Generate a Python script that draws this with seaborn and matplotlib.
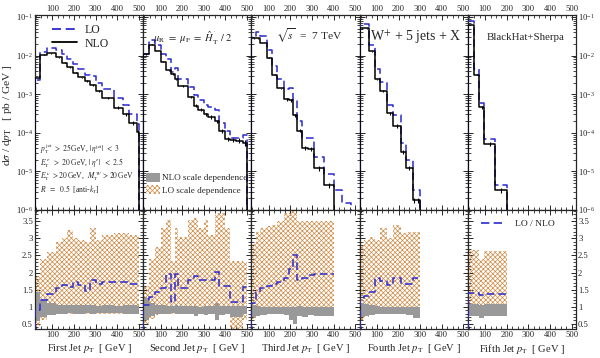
import numpy as np
import matplotlib
matplotlib.use("Agg")
import matplotlib.pyplot as plt
import seaborn as sns
from matplotlib.ticker import MultipleLocator, LogLocator, NullFormatter, FuncFormatter
from matplotlib.lines import Line2D
from matplotlib.patches import Patch

# ---------------- data ----------------
panel_names = ["First Jet", "Second Jet", "Third Jet", "Fourth Jet", "Fifth Jet"]

# First jet
jet1_edges = [20, 45, 75, 115, 145, 170, 195, 220, 250, 275, 300, 330, 385, 425, 455, 490, 500]
jet1_nlo = [2.6e-3, 1.05e-2, 1.15e-2, 9.0e-3, 6.5e-3, 5.0e-3, 3.6e-3, 2.7e-3, 2.2e-3, 1.7e-3, 1.2e-3, 8.0e-4, 4.5e-4, 3.0e-4, 1.8e-4, 1.05e-4]
jet1_nlo_err = [0.02, 0.02, 0.02, 0.02, 0.03, 0.03, 0.04, 0.05, 0.06, 0.06, 0.08, 0.08, 0.1, 0.1, 0.12, 0.15]
jet1_lo_edges = jet1_edges
jet1_lo = [2.3e-3, 1.26e-2, 1.56e-2, 1.39e-2, 1.07e-2, 7.9e-3, 6.2e-3, 4.5e-3, 3.2e-3, 3.0e-3, 2.0e-3, 1.37e-3, 7.8e-4, 5.2e-4, 3.0e-4, 1.7e-4]
jet1_ratio = [0.9, 1.2, 1.36, 1.54, 1.64, 1.59, 1.71, 1.65, 1.45, 1.78, 1.68, 1.71, 1.73, 1.73, 1.68, 1.6]
jet1_nlo_band_lo = [0.58, 0.7, 0.76, 0.8, 0.8, 0.82, 0.8, 0.8, 0.82, 0.8, 0.82, 0.83, 0.82, 0.8, 0.8, 0.8]
jet1_nlo_band_hi = [1.42, 1.2, 1.1, 1.06, 1.05, 1.04, 1.05, 1.06, 1.04, 1.05, 1.03, 1.04, 1.03, 1.04, 1.04, 1.03]
jet1_lo_band_lo = [0.45, 0.6, 0.75, 0.8, 0.8, 0.8, 0.8, 0.8, 0.8, 0.8, 0.8, 0.8, 0.8, 0.8, 0.8, 0.8]
jet1_lo_band_hi = [1.9, 2.4, 2.6, 2.9, 3.0, 3.25, 3.0, 2.95, 2.9, 3.3, 2.95, 3.1, 3.15, 3.15, 3.1, 3.05]

# Second jet
jet2_edges = [20, 45, 75, 100, 125, 150, 165, 180, 225, 255, 275, 300, 320, 350, 370, 400, 420, 450, 480, 500]
jet2_nlo = [1.07e-2, 1.9e-2, 1.3e-2, 7.0e-3, 4.2e-3, 3.3e-3, 2.4e-3, 1.6e-3, 8.5e-4, 5.0e-4, 4.0e-4, 3.0e-4, 2.6e-4, 2.0e-4, 1.1e-4, 7.0e-5, 6.5e-5, 6.3e-5, 5.5e-5]
jet2_nlo_err = [0.02, 0.02, 0.02, 0.03, 0.03, 0.04, 0.05, 0.05, 0.06, 0.08, 0.08, 0.1, 0.1, 0.1, 0.12, 0.12, 0.12, 0.15, 0.15]
jet2_lo_edges = jet2_edges
jet2_lo = [1.12e-2, 2.47e-2, 1.85e-2, 1.09e-2, 8.2e-3, 3.8e-3, 4.7e-3, 2.5e-3, 1.5e-3, 9.5e-4, 7.1e-4, 5.3e-4, 4.6e-4, 4.0e-4, 1.76e-4, 1.12e-4, 7.5e-5, 7.2e-5, 8.6e-5]
jet2_ratio = [1.05, 1.3, 1.42, 1.55, 1.95, 1.15, 1.95, 1.55, 1.78, 1.9, 1.78, 1.78, 1.78, 2.02, 1.6, 1.6, 1.15, 1.15, 1.57]
jet2_nlo_band_lo = [0.62, 0.72, 0.78, 0.8, 0.8, 0.82, 0.8, 0.8, 0.78, 0.72, 0.8, 0.75, 0.8, 0.6, 0.75, 0.8, 0.7, 0.7, 0.78]
jet2_nlo_band_hi = [1.25, 1.1, 1.05, 1.04, 1.03, 1.03, 1.04, 1.02, 1.02, 1.03, 1.0, 1.02, 1.02, 1.1, 1.02, 1.02, 1.03, 1.03, 1.02]
jet2_lo_band_lo = [0.5, 0.65, 0.75, 0.8, 0.8, 0.8, 0.8, 0.8, 0.8, 0.8, 0.8, 0.8, 0.8, 0.8, 0.8, 0.8, 0.35, 0.35, 0.6]
jet2_lo_band_hi = [1.6, 2.4, 2.75, 3.3, 3.55, 2.35, 3.3, 3.05, 3.55, 3.6, 3.3, 3.55, 3.1, 3.75, 3.75, 3.3, 2.35, 2.35, 2.3]

# Third jet
jet3_edges = [20, 40, 60, 90, 115, 140, 170, 195, 210, 230, 255, 280, 310, 355, 400]
jet3_nlo = [2.8e-2, 2.8e-2, 2.1e-2, 8.7e-3, 3.2e-3, 1.4e-3, 7.4e-4, 7.0e-4, 2.8e-4, 1.14e-4, 4.0e-5, 3.8e-5, 1.2e-5, 4.4e-6]
jet3_nlo_err = [0.02, 0.02, 0.02, 0.03, 0.04, 0.05, 0.08, 0.08, 0.1, 0.1, 0.12, 0.12, 0.15, 0.15]
jet3_lo_edges = [20, 40, 60, 90, 115, 140, 170, 195, 210, 230, 255, 280, 310, 355, 400, 440, 480]
jet3_lo = [3.1e-2, 4.0e-2, 3.2e-2, 1.41e-2, 5.3e-3, 2.4e-3, 1.37e-3, 1.47e-3, 7.1e-4, 2.0e-4, 7.4e-5, 7.3e-5, 2.3e-5, 8.6e-6, 3.3e-6, 1.5e-6]
jet3_ratio = [1.1, 1.44, 1.54, 1.62, 1.66, 1.72, 1.85, 2.1, 2.52, 1.78, 1.85, 1.92, 1.95, 1.95]
jet3_nlo_band_lo = [0.7, 0.74, 0.76, 0.78, 0.78, 0.78, 0.76, 0.6, 0.5, 0.72, 0.7, 0.76, 0.72, 0.72]
jet3_nlo_band_hi = [1.05, 1.02, 1.0, 1.0, 1.0, 1.0, 1.0, 1.0, 1.0, 1.02, 1.0, 1.0, 1.0, 1.0]
jet3_lo_band_lo = [0.65, 0.72, 0.75, 0.78, 0.78, 0.78, 0.76, 0.7, 0.6, 0.72, 0.72, 0.76, 0.72, 0.72]
jet3_lo_band_hi = [2.85, 3.2, 3.3, 3.35, 3.4, 3.5, 3.75, 3.8, 3.8, 3.5, 3.5, 3.5, 3.5, 3.5]

# Fourth jet
jet4_edges = [20, 40, 65, 90, 115, 145, 175, 210, 235, 265, 280, 300]
jet4_nlo = [5.1e-2, 5.1e-2, 1.3e-2, 2.4e-3, 1.2e-3, 3.2e-4, 1.5e-4, 3.2e-5, 1.2e-5, 1.8e-6, 1.8e-6]
jet4_nlo_err = [0.02, 0.02, 0.03, 0.05, 0.06, 0.08, 0.1, 0.12, 0.12, 0.15, 0.15]
jet4_lo_edges = jet4_edges
jet4_lo = [6.4e-2, 6.7e-2, 1.85e-2, 4.4e-3, 2.1e-3, 5.3e-4, 2.8e-4, 5.4e-5, 2.0e-5, 3.3e-6, 3.3e-6]
jet4_ratio = [1.25, 1.32, 1.42, 1.85, 1.75, 1.65, 1.85, 1.68, 1.68, 1.85, 1.85]
jet4_nlo_band_lo = [0.7, 0.72, 0.76, 0.8, 0.8, 0.8, 0.8, 0.78, 0.75, 0.68, 0.68]
jet4_nlo_band_hi = [1.12, 1.08, 1.04, 1.02, 1.0, 1.0, 1.0, 1.0, 1.0, 1.0, 1.0]
jet4_lo_band_lo = [0.6, 0.7, 0.75, 0.8, 0.8, 0.8, 0.8, 0.78, 0.75, 0.7, 0.7]
jet4_lo_band_hi = [2.8, 2.95, 3.05, 2.95, 3.3, 3.0, 3.4, 3.15, 3.2, 3.2, 3.2]

# Fifth jet
jet5_edges = [20, 50, 72, 97, 148, 200]
jet5_nlo = [6.2e-2, 3.2e-3, 4.6e-4, 5.2e-5, 3.3e-6]
jet5_nlo_err = [0.02, 0.05, 0.08, 0.12, 0.15]
jet5_lo_edges = jet5_edges
jet5_lo = [8.0e-2, 4.4e-3, 6.0e-4, 7.0e-5, 4.5e-6]
jet5_ratio = [1.4, 1.4, 1.35, 1.38, 1.38]
jet5_nlo_band_lo = [0.72, 0.72, 0.68, 0.72, 0.72]
jet5_nlo_band_hi = [1.08, 1.08, 1.06, 1.08, 1.08]
jet5_lo_band_lo = [0.72, 0.72, 0.68, 0.72, 0.72]
jet5_lo_band_hi = [2.66, 2.66, 2.4, 2.62, 2.62]

panels = [
    dict(edges=jet1_edges, nlo=jet1_nlo, err=jet1_nlo_err, lo_edges=jet1_lo_edges, lo=jet1_lo, ratio=jet1_ratio,
         nb_lo=jet1_nlo_band_lo, nb_hi=jet1_nlo_band_hi, lb_lo=jet1_lo_band_lo, lb_hi=jet1_lo_band_hi),
    dict(edges=jet2_edges, nlo=jet2_nlo, err=jet2_nlo_err, lo_edges=jet2_lo_edges, lo=jet2_lo, ratio=jet2_ratio,
         nb_lo=jet2_nlo_band_lo, nb_hi=jet2_nlo_band_hi, lb_lo=jet2_lo_band_lo, lb_hi=jet2_lo_band_hi),
    dict(edges=jet3_edges, nlo=jet3_nlo, err=jet3_nlo_err, lo_edges=jet3_lo_edges, lo=jet3_lo, ratio=jet3_ratio,
         nb_lo=jet3_nlo_band_lo, nb_hi=jet3_nlo_band_hi, lb_lo=jet3_lo_band_lo, lb_hi=jet3_lo_band_hi),
    dict(edges=jet4_edges, nlo=jet4_nlo, err=jet4_nlo_err, lo_edges=jet4_lo_edges, lo=jet4_lo, ratio=jet4_ratio,
         nb_lo=jet4_nlo_band_lo, nb_hi=jet4_nlo_band_hi, lb_lo=jet4_lo_band_lo, lb_hi=jet4_lo_band_hi),
    dict(edges=jet5_edges, nlo=jet5_nlo, err=jet5_nlo_err, lo_edges=jet5_lo_edges, lo=jet5_lo, ratio=jet5_ratio,
         nb_lo=jet5_nlo_band_lo, nb_hi=jet5_nlo_band_hi, lb_lo=jet5_lo_band_lo, lb_hi=jet5_lo_band_hi),
]

# ---------------- style ----------------
BLUE = "#2a2ad0"
ORANGE = "#d08a45"
GRAY = "#999999"
DASH = (0, (5, 2.6))
HATCH = "xxxxxxx"

sns.set_theme(style="ticks")
plt.rcParams.update({
    "font.family": ["Liberation Serif", "DejaVu Serif"],
    "mathtext.fontset": "stix",
    "hatch.color": ORANGE,
    "hatch.linewidth": 0.5,
    "axes.linewidth": 0.9,
    "xtick.direction": "in", "ytick.direction": "in",
    "xtick.major.size": 3.5, "ytick.major.size": 3.5,
    "xtick.minor.size": 2.0, "ytick.minor.size": 2.0,
    "xtick.major.width": 0.7, "ytick.major.width": 0.7,
    "xtick.minor.width": 0.6, "ytick.minor.width": 0.6,
    "xtick.labelsize": 6.2, "ytick.labelsize": 6.2,
    "xtick.major.pad": 1.5, "ytick.major.pad": 1.5,
})

W, H = 600, 358
fig = plt.figure(figsize=(6.0, 3.58), dpi=100)
gs = fig.add_gridspec(2, 5, left=35 / W, right=576 / W, top=1 - 15 / H, bottom=1 - 329 / H,
                      wspace=0, hspace=0, height_ratios=[195, 119])

TOP_FLOOR = 1e-8


def ext(a):
    a = np.asarray(a, float)
    return np.r_[a, a[-1]]


for i, p in enumerate(panels):
    axt = fig.add_subplot(gs[0, i])
    axr = fig.add_subplot(gs[1, i])

    # ---- top: distributions ----
    axt.set_yscale("log")
    e = np.asarray(p["edges"], float)
    nlo = np.asarray(p["nlo"], float)
    le = np.asarray(p["lo_edges"], float)
    lo = np.asarray(p["lo"], float)
    sns.lineplot(x=np.r_[le[0], le], y=np.r_[TOP_FLOOR, lo, TOP_FLOOR], ax=axt, color=BLUE,
                 linestyle=DASH, lw=1.1, estimator=None, sort=False, drawstyle="steps-post", zorder=3)
    sns.lineplot(x=np.r_[e[0], e], y=np.r_[TOP_FLOOR, nlo, TOP_FLOOR], ax=axt, color="black",
                 lw=1.1, estimator=None, sort=False, drawstyle="steps-post", zorder=4)
    ctr = 0.5 * (e[:-1] + e[1:])
    axt.errorbar(ctr, nlo, yerr=nlo * np.asarray(p["err"]), fmt="none", ecolor="black",
                 elinewidth=0.8, capsize=0, zorder=4)
    axt.set_xlim(20, 520)
    axt.set_ylim(1e-6, 0.112)

    # ---- bottom: ratio ----
    r = np.asarray(p["ratio"], float)
    axr.fill_between(e, ext(p["lb_lo"]), ext(p["lb_hi"]), step="post", facecolor="none",
                     edgecolor=ORANGE, hatch=HATCH, linewidth=0, zorder=1)
    axr.fill_between(e, ext(p["nb_lo"]), ext(p["nb_hi"]), step="post", facecolor=GRAY,
                     edgecolor="none", linewidth=0, zorder=2)
    sns.lineplot(x=np.r_[e[0], e], y=np.r_[0.0, r, r[-1]], ax=axr, color=BLUE, linestyle=DASH,
                 lw=1.1, estimator=None, sort=False, drawstyle="steps-post", zorder=3)
    axr.set_xlim(20, 520)
    axr.set_ylim(0.35, 3.83)

    for ax in (axt, axr):
        ax.set_xlabel("")
        ax.set_ylabel("")
        ax.xaxis.set_major_locator(MultipleLocator(100))
        ax.xaxis.set_minor_locator(MultipleLocator(25))
        ax.xaxis.set_major_formatter(FuncFormatter(lambda v, _: f"{v:.0f}"))
        ax.tick_params(which="both", top=True, right=True, bottom=True, left=True,
                       labelleft=(i == 0), labelright=(i == 4))
    axt.tick_params(labeltop=True, labelbottom=False)
    axr.tick_params(labeltop=False, labelbottom=True)
    axt.yaxis.set_major_locator(LogLocator(base=10, numticks=12))
    axt.yaxis.set_minor_locator(LogLocator(base=10, subs=np.arange(2, 10), numticks=12))
    axt.yaxis.set_minor_formatter(NullFormatter())
    axr.yaxis.set_major_locator(MultipleLocator(0.5))
    axr.yaxis.set_minor_locator(MultipleLocator(0.1))
    axr.yaxis.set_major_formatter(FuncFormatter(lambda v, _: f"{v:g}"))
    axr.set_xlabel(f"{panel_names[i]} " + r"$p_{\rm T}$  [ GeV ]", fontsize=7.6, labelpad=2)

    if i == 0:
        h = [Line2D([], [], color=BLUE, linestyle=DASH, lw=1.3),
             Line2D([], [], color="black", lw=1.3)]
        axt.legend(h, ["LO", "NLO"], loc="upper left", bbox_to_anchor=(0.16, 0.955), frameon=False,
                   fontsize=8.5, handlelength=2.1, handletextpad=0.6, labelspacing=0.15,
                   borderpad=0, borderaxespad=0)
        cuts = [r"$p_{\rm T}^{\,\rm jet}\ >\ 25\,$GeV, $|\,\eta^{\rm jet}|\ <\ 3$",
                r"$E_{\rm T}^{\,e}\ \ >\ 20\,$GeV, $|\,\eta^{e}|\ \ <\ 2.5$",
                r"$E_{\rm T}^{\,\nu}\ >20\,$GeV, $\ M_{\rm T}^{\,W}\ >20\,$GeV",
                r"$R\ \ =\ \ 0.5\ \ $[anti-$k_T$]"]
        for t, yy in zip(cuts, [149, 163, 176, 190]):
            fig.text(40 / W, 1 - yy / H, t, fontsize=5.5, ha="left", va="center")
    if i == 1:
        h = [Patch(facecolor=GRAY, edgecolor="none"),
             Patch(facecolor="white", edgecolor=ORANGE, hatch=HATCH, linewidth=0)]
        axt.legend(h, ["NLO scale dependence", "LO scale dependence"], loc="upper left",
                   bbox_to_anchor=(0.03, 0.19), frameon=False, fontsize=6.6, handlelength=1.5,
                   handleheight=1.1, handletextpad=0.15, labelspacing=0.3, borderpad=0, borderaxespad=0)
    if i == 4:
        axr.legend([Line2D([], [], color=BLUE, linestyle=DASH, lw=1.2)], ["LO / NLO"],
                   loc="upper left", bbox_to_anchor=(0.12, 0.92), frameon=False, fontsize=6.8,
                   handlelength=2.2, handletextpad=1.4, borderpad=0, borderaxespad=0)

fig.text(153 / W, 1 - 38 / H, r"$\mu_{\rm R}\ =\ \mu_{\rm F}\ =\ \hat{H}_{\rm T}^{\,'}\ /\ 2$",
         fontsize=7.6, ha="left", va="center")
fig.text(276 / W, 1 - 36 / H, r"$\sqrt{s}$  =  7 TeV", fontsize=8.2, ha="left", va="center")
fig.text(370 / W, 1 - 37 / H, r"W$^{+}$ + 5 jets + X", fontsize=10, ha="left", va="center")
fig.text(487 / W, 1 - 37 / H, "BlackHat+Sherpa", fontsize=7.8, ha="left", va="center")
fig.text(8 / W, 1 - 115 / H, r"d$\sigma$ / d$p_{\rm T}$   [ pb / GeV ]", fontsize=8.2,
         rotation=90, ha="center", va="center")

fig.savefig("out.png", dpi=100)
